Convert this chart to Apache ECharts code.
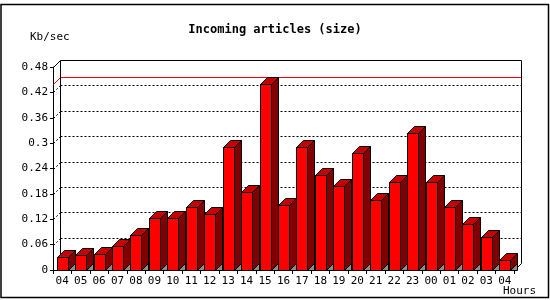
<!DOCTYPE html>
<html>
<head>
<meta charset="utf-8">
<script src="https://cdn.jsdelivr.net/npm/echarts@6/dist/echarts.min.js"></script>
<style>html,body{margin:0;padding:0;background:#fff;}#c{width:550px;height:300px;}</style>
</head>
<body>
<div id="c"></div>
<script>
var categories = ['04','05','06','07','08','09','10','11','12','13','14','15','16','17','18','19','20','21','22','23','00','01','02','03','04'];
var values = [0.030,0.035,0.037,0.056,0.083,0.122,0.122,0.149,0.132,0.292,0.184,0.440,0.154,0.290,0.224,0.198,0.276,0.165,0.207,0.323,0.207,0.148,0.108,0.077,0.023];
var yTickValues = [0,0.06,0.12,0.18,0.24,0.3,0.36,0.42,0.48];
var yTickLabels = ['0','0.06','0.12','0.18','0.24','0.3','0.36','0.42','0.48'];

var D = 7;
var FONT = '"DejaVu Sans Mono", monospace';
var maxVal = Math.max.apply(null, values);

function px(v){ return Math.round(v) + 0.5; }

var chart = echarts.init(document.getElementById('c'), null, {renderer:'canvas'});

function renderFrame(params, api){
  var cs = params.coordSys;
  var L = cs.x, T = cs.y, W = cs.width, H = cs.height;
  var children = [];
  var bx0 = px(L + D), bx1 = px(L + W + D);
  for (var i = 1; i < yTickValues.length - 1; i++){
    var y = api.coord([0, yTickValues[i]])[1];
    var by = px(y - D);
    children.push({type:'line', shape:{x1:bx0, y1:by, x2:bx1, y2:by},
      style:{stroke:'#000', lineWidth:1, lineDash:[2,2]}});
    children.push({type:'line', shape:{x1:px(L), y1:px(y), x2:bx0, y2:by},
      style:{stroke:'#000', lineWidth:1, lineDash:[2,2]}});
  }
  var my = api.coord([0, maxVal])[1];
  children.push({type:'line', shape:{x1:bx0, y1:px(my - D), x2:bx1, y2:px(my - D)},
    style:{stroke:'#ff0000', lineWidth:1}});
  children.push({type:'line', shape:{x1:px(L), y1:px(my), x2:bx0, y2:px(my - D)},
    style:{stroke:'#ff0000', lineWidth:1}});
  var topY = px(T - D), botY = px(T + H - D);
  children.push({type:'polyline', shape:{points:[[bx0, botY],[bx0, topY],[bx1, topY],[bx1, botY],[px(L + W), px(T + H)]]},
    style:{stroke:'#000', lineWidth:1, fill:null}});
  children.push({type:'line', shape:{x1:px(L), y1:px(T), x2:bx0, y2:topY},
    style:{stroke:'#000', lineWidth:1}});
  return {type:'group', children:children};
}

function renderBar(params, api){
  var idx = api.value(0), val = api.value(1);
  var top = api.coord([idx, val]);
  var base = api.coord([idx, 0]);
  var bw = Math.round(api.size([1, 0])[0] * 0.6);
  var l = Math.round(top[0] - bw / 2) + 0.5;
  var r = l + bw;
  var yt = Math.round(top[1]) + 0.5;
  var yb = Math.round(base[1]) + 0.5;
  var st = {stroke:'#000', lineWidth:1};
  return {type:'group', children:[
    {type:'polygon', shape:{points:[[r, yb],[r + D, yb - D],[r + D, yb]]},
      style:{fill:'#8c8c8c', stroke:'#000', lineWidth:1}},
    {type:'polygon', shape:{points:[[r, yt],[r + D, yt - D],[r + D, yb - D],[r, yb]]},
      style:Object.assign({fill:'#800000'}, st)},
    {type:'polygon', shape:{points:[[l, yt],[l + D, yt - D],[r + D, yt - D],[r, yt]]},
      style:Object.assign({fill:'#c40000'}, st)},
    {type:'polygon', shape:{points:[[l, yt],[r, yt],[r, yb],[l, yb]]},
      style:Object.assign({fill:'#ff0000'}, st)}
  ]};
}

chart.setOption({
  animation: false,
  backgroundColor: '#fff',
  title: {
    text: 'Incoming articles (size)', left: 'center', top: 19,
    textStyle: {fontFamily: FONT, fontSize: 12, fontWeight: 'bold', color: '#000'}
  },
  graphic: [
    {type:'text', left: 30, top: 32, style:{text:'Kb/sec', font:'11px ' + FONT, fill:'#000'}},
    {type:'text', left: 503, top: 286, style:{text:'Hours', font:'11px ' + FONT, fill:'#000'}},
    {type:'rect', shape:{x:1, y:4.5, width:547.5, height:293}, style:{fill:null, stroke:'#000', lineWidth:1.5}}
  ],
  grid: {left: 53, top: 67, width: 461, height: 203},
  xAxis: {
    type: 'category', data: categories, boundaryGap: true,
    axisLine: {lineStyle: {color: '#000', width: 1}},
    axisTick: {show: true, length: 4, alignWithLabel: false, lineStyle:{color:'#000'}},
    axisLabel: {color: '#000', fontFamily: FONT, fontSize: 11, margin: 6, interval: 0}
  },
  yAxis: {
    type: 'value', min: 0, max: 0.48, interval: 0.06,
    axisLine: {show: true, lineStyle: {color: '#000', width: 1}},
    axisTick: {show: true, length: 3, lineStyle:{color:'#000'}},
    splitLine: {show: false},
    axisLabel: {
      color: '#000', fontFamily: FONT, fontSize: 11, margin: 5,
      formatter: function(v){ var i = Math.round(v / 0.06); return yTickLabels[i]; }
    }
  },
  series: [
    {type: 'custom', renderItem: renderFrame, data: [[0, 0]], z: 1, silent: true},
    {type: 'custom', renderItem: renderBar, z: 2,
      data: values.map(function(v, i){ return [i, v]; })}
  ]
});
</script>
</body>
</html>
